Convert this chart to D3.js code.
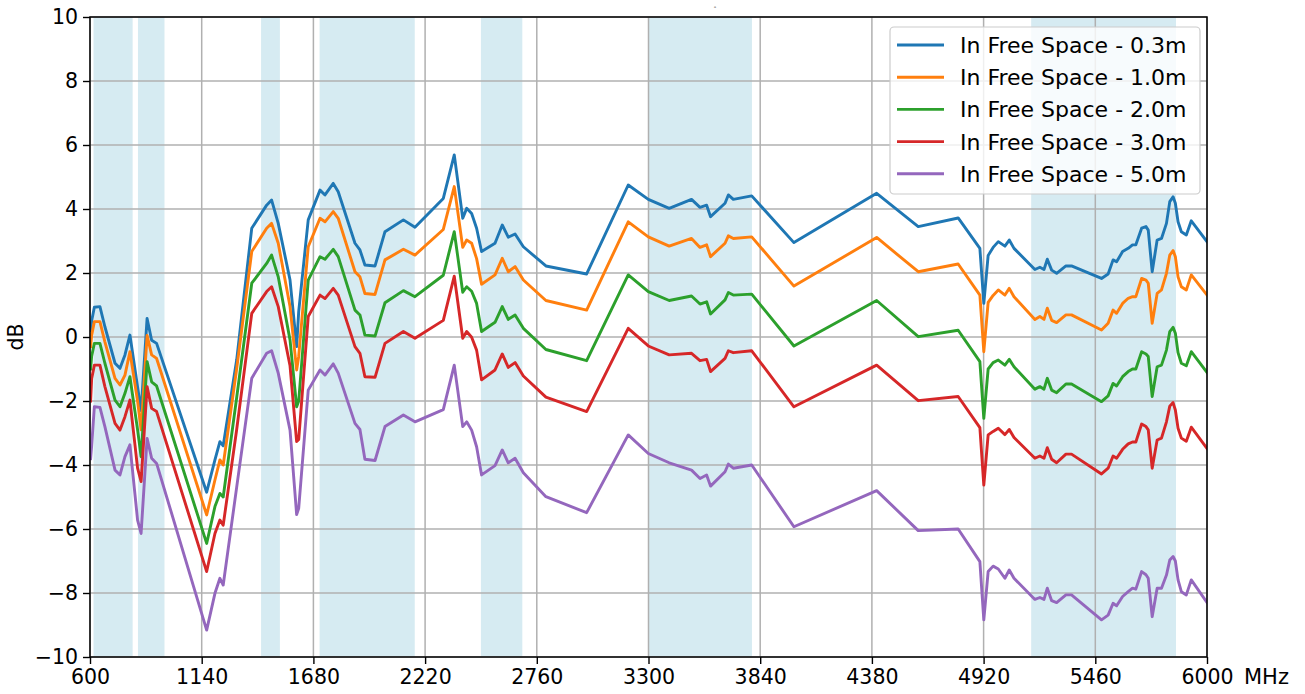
<!DOCTYPE html>
<html>
<head>
<meta charset="utf-8">
<script src="https://cdn.jsdelivr.net/npm/d3@7"></script>
<style>
  html, body { margin: 0; padding: 0; background: #fff; }
  svg { display: block; }
  text { font-family: "DejaVu Sans", sans-serif; fill: #000; }
</style>
</head>
<body>
<svg id="chart" width="1305" height="694"></svg>
<script>
// ---------- data ----------
const freqs = [
  603, 608, 621, 648, 672, 721, 745, 769, 793, 830, 847, 876, 898, 922,
  1164, 1204, 1228, 1244, 1309, 1382,
  1454, 1478, 1510, 1567, 1599, 1609, 1655, 1712, 1736, 1776, 1800, 1881, 1905, 1929, 1978, 2026, 2115, 2171, 2308, 2361, 2402, 2421, 2445, 2469, 2493, 2558,
  2593, 2622, 2655, 2695, 2804, 3001, 3202, 3299, 3400, 3508, 3549, 3581, 3600, 3670, 3686, 3710, 3799,
  4003, 4403, 4604, 4797, 4902, 4921, 4942, 4966, 4991, 5023, 5044, 5067,
  5168, 5192, 5212, 5228, 5249, 5273, 5318, 5345, 5490, 5522, 5546, 5563, 5592, 5619, 5640, 5656, 5684, 5705, 5716, 5735, 5759, 5780, 5804, 5820, 5836, 5847, 5860, 5876, 5900, 5924, 6000
];

const fs03 = [
  0.2, 0.5, 0.93, 0.95, 0.32, -0.82, -0.98, -0.56, 0.06, -1.56, -2.3, 0.58, -0.1, -0.2,
  -4.85, -3.84, -3.27, -3.4, -0.72, 3.40,
  4.12, 4.28, 3.55, 1.78, -0.30, 0.8, 3.66, 4.59, 4.44, 4.80, 4.54, 2.93, 2.72, 2.25, 2.22, 3.29, 3.66, 3.43, 4.33, 5.69, 3.71, 4.02, 3.86, 3.40, 2.67, 2.93,
  3.5, 3.12, 3.22, 2.82, 2.22, 1.97, 4.75, 4.30, 4.02, 4.30, 4.05, 4.12, 3.76, 4.18, 4.44, 4.30, 4.41,
  2.95, 4.49, 3.45, 3.72, 2.77, 1.05, 2.55, 2.80, 2.98, 2.84, 3.03, 2.77,
  2.11, 2.18, 2.11, 2.43, 2.09, 1.99, 2.22, 2.22, 1.83, 1.97, 2.41, 2.35, 2.67, 2.77, 2.88, 2.88, 3.40, 3.45, 3.34, 2.04, 3.03, 3.08, 3.55, 4.23, 4.38, 4.18, 3.60, 3.29, 3.19, 3.63, 2.98
];

const fs10 = [
  -0.3, 0.05, 0.48, 0.48, -0.15, -1.29, -1.5, -1.19, -0.46, -2.0, -2.9, 0.05, -0.56, -0.67,
  -5.56, -4.47, -3.84, -4.0, -1.0, 2.67,
  3.40, 3.55, 2.93, 0.95, -1.03, -0.6, 2.82, 3.71, 3.60, 3.92, 3.71, 2.04, 1.88, 1.36, 1.33, 2.41, 2.74, 2.56, 3.36, 4.70, 2.80, 3.03, 2.93, 2.45, 1.65, 1.94,
  2.46, 2.04, 2.20, 1.78, 1.14, 0.84, 3.60, 3.13, 2.84, 3.08, 2.80, 2.88, 2.51, 2.93, 3.16, 3.08, 3.13,
  1.59, 3.11, 2.04, 2.28, 1.31, -0.46, 1.08, 1.30, 1.47, 1.31, 1.52, 1.26,
  0.55, 0.64, 0.55, 0.90, 0.52, 0.45, 0.69, 0.69, 0.22, 0.43, 0.84, 0.74, 1.05, 1.21, 1.26, 1.26, 1.83, 1.78, 1.68, 0.43, 1.36, 1.47, 1.99, 2.56, 2.70, 2.51, 1.88, 1.57, 1.47, 1.94, 1.31
];

const fs20 = [
  -1.0, -0.6, -0.2, -0.2, -0.82, -1.97, -2.18, -1.76, -1.24, -2.9, -3.74, -0.77, -1.40, -1.53,
  -6.45, -5.3, -4.89, -5.0, -1.9, 1.68,
  2.30, 2.56, 1.88, -0.09, -2.18, -2.0, 1.78, 2.51, 2.43, 2.74, 2.51, 0.84, 0.69, 0.06, 0.03, 1.07, 1.45, 1.26, 1.93, 3.29, 1.40, 1.57, 1.43, 1.05, 0.17, 0.46,
  0.95, 0.55, 0.69, 0.27, -0.39, -0.74, 1.94, 1.42, 1.14, 1.28, 1.03, 1.10, 0.72, 1.16, 1.39, 1.31, 1.34,
  -0.28, 1.14, 0.01, 0.21, -0.77, -2.54, -1.0, -0.80, -0.72, -0.88, -0.70, -0.93,
  -1.63, -1.55, -1.63, -1.29, -1.66, -1.74, -1.47, -1.47, -2.02, -1.84, -1.45, -1.53, -1.24, -1.08, -1.0, -1.0, -0.46, -0.53, -0.61, -1.86, -0.93, -0.88, -0.41, 0.17, 0.30, 0.12, -0.49, -0.82, -0.90, -0.46, -1.11
];

const fs30 = [
  -2.0, -1.3, -0.88, -0.88, -1.55, -2.70, -2.91, -2.49, -1.97, -4.1, -4.52, -1.55, -2.23, -2.33,
  -7.33, -6.14, -5.72, -5.88, -2.9, 0.74,
  1.42, 1.57, 0.95, -0.9, -3.27, -3.2, 0.64, 1.31, 1.20, 1.52, 1.31, -0.30, -0.51, -1.24, -1.26, -0.20, 0.17, -0.04, 0.52, 1.90, -0.04, 0.17, -0.01, -0.41, -1.34, -1.03,
  -0.53, -0.95, -0.80, -1.22, -1.88, -2.33, 0.27, -0.28, -0.56, -0.51, -0.74, -0.70, -1.08, -0.67, -0.43, -0.49, -0.43,
  -2.18, -0.88, -1.99, -1.86, -2.83, -4.63, -3.06, -2.95, -2.85, -3.05, -2.89, -3.14,
  -3.79, -3.72, -3.79, -3.46, -3.82, -3.93, -3.66, -3.66, -4.28, -4.10, -3.72, -3.79, -3.51, -3.34, -3.28, -3.28, -2.72, -2.80, -2.90, -4.10, -3.22, -3.16, -2.65, -2.16, -2.05, -2.28, -2.85, -3.16, -3.26, -2.82, -3.48
];

const fs50 = [
  -3.8, -3.4, -2.18, -2.2, -2.80, -4.16, -4.31, -3.74, -3.37, -5.72, -6.14, -3.17, -3.79, -3.95,
  -9.16, -8.01, -7.54, -7.75, -4.7, -1.29,
  -0.51, -0.43, -1.13, -2.91, -5.55, -5.35, -1.66, -1.03, -1.19, -0.84, -1.13, -2.70, -2.89, -3.82, -3.86, -2.80, -2.44, -2.65, -2.27, -0.88, -2.80, -2.65, -2.91, -3.43, -4.31, -4.02,
  -3.53, -3.93, -3.79, -4.24, -4.99, -5.49, -3.06, -3.64, -3.93, -4.16, -4.42, -4.31, -4.66, -4.21, -3.97, -4.10, -4.00,
  -5.93, -4.80, -6.05, -6.00, -7.02, -8.84, -7.33, -7.16, -7.25, -7.54, -7.28, -7.54,
  -8.20, -8.14, -8.20, -7.85, -8.24, -8.30, -8.06, -8.06, -8.84, -8.69, -8.32, -8.40, -8.11, -7.96, -7.85, -7.88, -7.33, -7.43, -7.54, -8.74, -7.85, -7.85, -7.44, -6.97, -6.86, -7.00, -7.59, -7.96, -8.06, -7.59, -8.30
];

const seriesNames = ["In Free Space - 0.3m", "In Free Space - 1.0m", "In Free Space - 2.0m", "In Free Space - 3.0m", "In Free Space - 5.0m"];
const seriesValues = [fs03, fs10, fs20, fs30, fs50];
const seriesColors = ["#1f77b4", "#ff7f0e", "#2ca02c", "#d62728", "#9467bd"];

const bands = [[617, 806], [832, 960], [1427, 1518], [1710, 2170], [2490, 2690], [3300, 3800], [5150, 5850]];

const xTicks = [600, 1140, 1680, 2220, 2760, 3300, 3840, 4380, 4920, 5460, 6000];
const yTicks = [-10, -8, -6, -4, -2, 0, 2, 4, 6, 8, 10];
const xUnit = "MHz";
const yLabel = "dB";

// ---------- layout ----------
const L = 90, R = 1207, T = 17, B = 657;
const svg = d3.select("#chart");
const x = d3.scaleLinear().domain([600, 6000]).range([L, R]);
const y = d3.scaleLinear().domain([-10, 10]).range([B, T]);

svg.append("defs").append("clipPath").attr("id", "plotclip")
  .append("rect").attr("x", L).attr("y", T).attr("width", R - L).attr("height", B - T);

// bands
svg.append("g").selectAll("rect").data(bands).join("rect")
  .attr("x", d => x(d[0])).attr("y", T)
  .attr("width", d => x(d[1]) - x(d[0])).attr("height", B - T)
  .attr("fill", "#add8e6").attr("fill-opacity", 0.5);

// grid
const grid = svg.append("g").attr("stroke", "#b0b0b0").attr("stroke-width", 1.5);
grid.selectAll("line.gx").data(xTicks).join("line").attr("class", "gx")
  .attr("x1", d => x(d)).attr("x2", d => x(d)).attr("y1", T).attr("y2", B);
grid.selectAll("line.gy").data(yTicks).join("line").attr("class", "gy")
  .attr("x1", L).attr("x2", R).attr("y1", d => y(d)).attr("y2", d => y(d));

// lines
const line = d3.line().x((d, i) => x(freqs[i])).y(d => y(d));
const lg = svg.append("g").attr("clip-path", "url(#plotclip)");
seriesValues.forEach((vals, k) => {
  lg.append("path").datum(vals)
    .attr("d", line)
    .attr("fill", "none")
    .attr("stroke", seriesColors[k])
    .attr("stroke-width", 2.9)
    .attr("stroke-linejoin", "round")
    .attr("stroke-linecap", "square");
});

// frame
svg.append("rect").attr("x", L).attr("y", T).attr("width", R - L).attr("height", B - T)
  .attr("fill", "none").attr("stroke", "#000").attr("stroke-width", 1.5);

// axes
const xAxis = d3.axisBottom(x).tickValues(xTicks).tickSize(7).tickPadding(5).tickFormat(d3.format("d"));
const gx = svg.append("g").attr("transform", `translate(0,${B})`).call(xAxis);
const yAxis = d3.axisLeft(y).tickValues(yTicks).tickSize(7).tickPadding(5).tickFormat(d3.format("d"));
const gy = svg.append("g").attr("transform", `translate(${L},0)`).call(yAxis);
[gx, gy].forEach(g => {
  g.select(".domain").remove();
  g.selectAll(".tick line").attr("stroke", "#000").attr("stroke-width", 1.4);
  g.selectAll(".tick text").attr("font-size", 20.5).attr("font-family", "DejaVu Sans").attr("fill", "#000");
});

svg.append("text").attr("x", R + 37).attr("y", B + 12).attr("dy", "0.71em")
  .attr("font-size", 21).text(xUnit);

svg.append("text").attr("transform", `translate(23,${(T + B) / 2}) rotate(-90)`)
  .attr("text-anchor", "middle").attr("font-size", 20.5).text(yLabel);

svg.append("text").attr("x", 715).attr("y", 9).attr("text-anchor", "middle")
  .attr("font-size", 7).attr("fill", "#999").text("-");

// legend
const legX = 890, legY = 27, legW = 310, legH = 167, rowH = 32.2;
const leg = svg.append("g");
leg.append("rect").attr("x", legX).attr("y", legY).attr("width", legW).attr("height", legH)
  .attr("rx", 4).attr("fill", "#fff").attr("fill-opacity", 0.8)
  .attr("stroke", "#cccccc").attr("stroke-width", 1.2);
seriesNames.forEach((name, k) => {
  const cy = legY + 18 + k * rowH;
  leg.append("line").attr("x1", legX + 7).attr("x2", legX + 54).attr("y1", cy).attr("y2", cy)
    .attr("stroke", seriesColors[k]).attr("stroke-width", 2.9);
  leg.append("text").attr("x", legX + 70).attr("y", cy).attr("dy", "0.36em")
    .attr("font-size", 22).text(name);
});
</script>
</body>
</html>
